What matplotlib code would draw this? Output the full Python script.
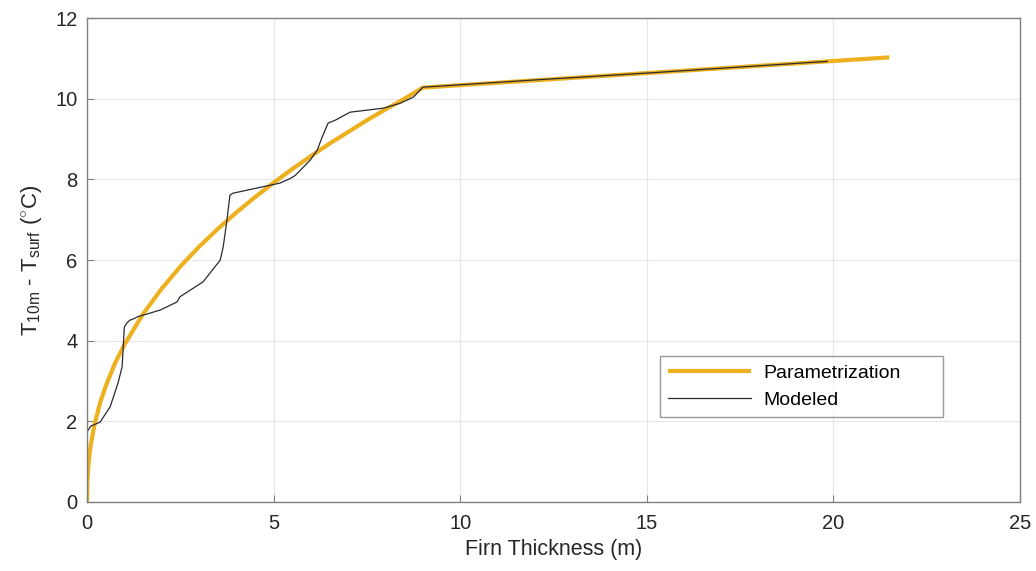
import numpy as np
import matplotlib
matplotlib.use('Agg')
import matplotlib.pyplot as plt

plt.rcParams['font.family'] = ['Liberation Sans', 'DejaVu Sans']
plt.rcParams['mathtext.fontset'] = 'custom'
plt.rcParams['mathtext.rm'] = 'Liberation Sans'
plt.rcParams['mathtext.it'] = 'Liberation Sans'

# parametrization curve (firn thickness m, temperature difference C)
param_x = [0, 0.01, 0.03, 0.06, 0.1, 0.2, 0.35, 0.5, 0.75, 1.0, 1.5, 2.0, 2.5,
           3.0, 3.5, 4.0, 4.5, 5.0, 5.5, 6.0, 6.5, 7.0, 7.5, 8.0, 8.5, 9.0, 21.5]
param_y = [0, 0.51, 0.83, 1.13, 1.42, 1.92, 2.46, 2.87, 3.44, 3.9, 4.66, 5.29, 5.84,
           6.33, 6.77, 7.18, 7.56, 7.92, 8.26, 8.58, 8.89, 9.18, 9.47, 9.74, 10.0, 10.28, 11.03]

# modeled curve
model_x = [0, 0.0, 0.1, 0.35, 0.62, 0.83, 0.94, 1.0, 1.07, 1.15, 1.24, 1.37, 1.6,
           1.96, 2.41, 2.49, 3.11, 3.57, 3.65, 3.75, 3.83, 3.91, 5.17, 5.36, 5.44,
           5.58, 5.98, 6.17, 6.3, 6.46, 6.65, 7.05, 7.5, 7.94, 8.39, 8.74, 9.0,
           12.0, 15.0, 17.5, 19.84]
model_y = [0, 1.74, 1.88, 1.98, 2.36, 2.95, 3.35, 4.34, 4.44, 4.51, 4.54, 4.6, 4.66,
           4.76, 4.96, 5.09, 5.46, 6.0, 6.33, 7.0, 7.61, 7.66, 7.91, 7.99, 8.02,
           8.1, 8.48, 8.73, 9.05, 9.4, 9.47, 9.67, 9.72, 9.77, 9.89, 10.04, 10.29,
           10.47, 10.64, 10.79, 10.93]

fig = plt.figure(figsize=(10.36, 5.71), dpi=100)
ax = fig.add_axes([0.084, 0.121, 0.9005, 0.847])

ax.plot(param_x, param_y, color='#EDB120', lw=3.0, label='Parametrization',
        solid_capstyle='butt')
ax.plot(model_x, model_y, color='#2a2a35', lw=0.9, label='Modeled')

ax.set_xlim(0, 25)
ax.set_ylim(0, 12)
ax.set_xticks(np.arange(0, 26, 5))
ax.set_yticks(np.arange(0, 13, 2))
ax.grid(True, color='#e6e6e6', lw=0.8)
ax.set_axisbelow(True)
ax.tick_params(direction='in', length=5, labelsize=14.5, colors='#808080',
               labelcolor='#262626')
ax.tick_params(axis='x', pad=9)
ax.tick_params(axis='y', pad=7)
for s in ax.spines.values():
    s.set_color('#808080')
    s.set_linewidth(1.0)

ax.set_xlabel('Firn Thickness (m)', fontsize=15.5, color='#262626', labelpad=4)
ax.set_ylabel(r'T$_{\rm 10m}$ - T$_{\rm surf}$ ($^{\circ}$C)', fontsize=16,
              color='#262626', labelpad=8)

leg = ax.legend(loc='lower left', bbox_to_anchor=(0.614, 0.176, 0.303, 0.134),
                mode='expand', fontsize=14, frameon=True, fancybox=False,
                handlelength=4.3, handletextpad=0.6, borderaxespad=0)
leg.get_frame().set_edgecolor('#808080')
leg.get_frame().set_linewidth(1.0)

fig.savefig('out.png', dpi=100)
